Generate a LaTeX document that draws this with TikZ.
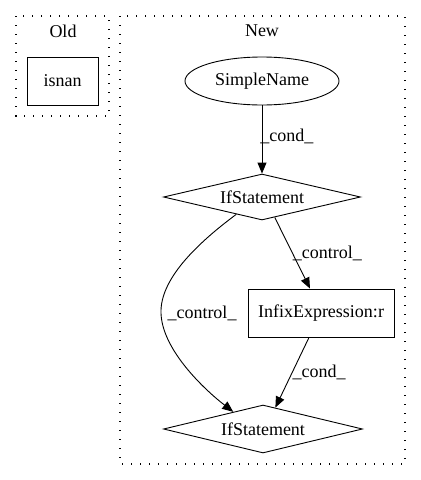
\documentclass[tikz,border=0pt]{standalone}
\usepackage{fontspec}
\setmainfont{Liberation Serif}
\usetikzlibrary{shapes.geometric,arrows.meta}
\begin{document}
\begin{tikzpicture}[x=1pt,y=-1pt,
  lbl/.style={font=\fontsize{18}{20}\selectfont, inner sep=0pt},
  box/.style={draw, line width=0.9pt, inner sep=0pt, font=\fontsize{18}{20}\selectfont},
  cluster/.style={draw, line width=1.3pt, dash pattern=on 1.3pt off 7.7pt},
  edge/.style={draw, line width=0.9pt, -{Triangle[length=11pt,width=9pt]}},
  elab/.style={font=\fontsize{18}{20}\selectfont, inner sep=0pt}]
\useasboundingbox (0,0) rectangle (421,480);
% clusters
\draw[cluster] (16,16) rectangle (109,116);
\draw[cluster] (120,16) rectangle (405,464);
\node[lbl] (oldlbl) at (63,31) {Old};
\node[lbl] (newlbl) at (262,31) {New};
% nodes
\node[box, rectangle, minimum width=71pt, minimum height=48pt] (isnan) at (62.5,81) {isnan};
\node[box, ellipse, minimum width=154pt, minimum height=48pt] (sn) at (262,81) {SimpleName};
\node[box, diamond, aspect=4, minimum width=197pt, minimum height=46pt] (ifa) at (262,197) {IfStatement};
\node[box, rectangle, minimum width=146pt, minimum height=48pt] (infix) at (321,313) {InfixExpression:r};
\node[box, diamond, aspect=4, minimum width=199pt, minimum height=48pt] (ifb) at (263,429) {IfStatement};
% edges
\draw[edge] (sn) -- node[elab, right, pos=0.45, xshift=-2pt] {\_cond\_} (ifa);
\draw[edge] (ifa.302) -- node[elab, right, pos=0.5] {\_control\_} (infix.north west -| 310,0);
\draw[edge] (ifa.214) .. controls (195,245) and (160,280) .. (161,313) .. controls (162,350) and (205,390) .. (ifb.150);
\node[elab] (c2) at (202,313) {\_control\_};
\draw[edge] (infix.south -| 309,0) -- node[elab, right, pos=0.5] {\_cond\_} (ifb.60);
\end{tikzpicture}
\end{document}
